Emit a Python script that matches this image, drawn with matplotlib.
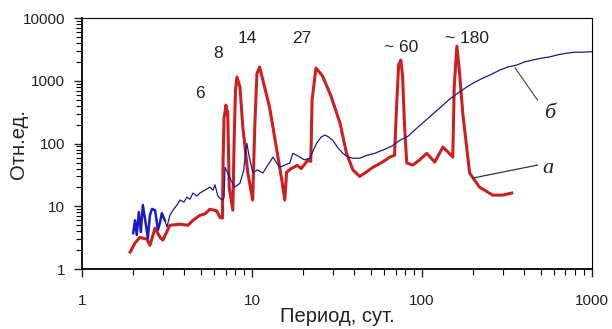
import matplotlib
matplotlib.use('Agg')
import matplotlib.pyplot as plt
from matplotlib.ticker import LogLocator, NullFormatter, FixedLocator

plt.rcParams['font.family'] = ['Liberation Sans', 'DejaVu Sans']

# curve "a" (red)
red_x = [1.92, 2.05, 2.19, 2.41, 2.51, 2.69, 2.88, 2.99, 3.29, 3.77, 4.2, 4.5,
         4.94, 5.3, 5.66, 6.2, 6.48, 6.7, 6.77, 6.85, 7.03, 7.12, 7.2, 7.35,
         7.72, 7.85, 8.0, 8.16, 8.5, 8.84, 9.46, 10.1, 10.4, 10.7, 11.1, 12.7,
         14.0, 15.0, 15.6, 16.0, 17.0, 18.5, 19.5, 21.4, 22.2, 22.6, 23.8, 26.0,
         29.0, 33.0, 36.0, 39.3, 43.0, 47.0, 51.5, 58.0, 64.8, 69.0, 71.0, 73.0,
         75.2, 77.0, 79.0, 81.5, 88.5, 97.0, 106.8, 119.0, 133.0, 145.0, 152.0,
         155.0, 160.7, 166.0, 174.0, 191.0, 218.0, 261.0, 299.0, 338.0]
red_y = [1.87, 2.6, 3.2, 3.0, 2.4, 4.5, 3.2, 2.9, 5.0, 5.2, 5.0, 6.0,
         7.2, 7.6, 9.0, 8.5, 6.7, 6.5, 60, 250, 411, 300, 330, 20,
         8.7, 100, 700, 1150, 800, 183, 34, 12.6, 200, 1300, 1660, 380,
         79, 26, 12.6, 35, 40, 45, 40, 55, 52, 500, 1600, 1200,
         600, 212, 70, 38, 30, 35, 42, 50, 61, 65, 400, 1800,
         2140, 1200, 200, 49, 45.5, 55, 70, 50.8, 88, 70, 61,
         800, 3580, 1500, 307, 34, 20.3, 15.1, 15.1, 16.3]

# curve "б" (blue)
blue_x = [2.0, 2.05, 2.1, 2.16, 2.22, 2.28, 2.38, 2.44, 2.51, 2.58, 2.69, 2.8,
          2.88, 2.95, 3.07, 3.16, 3.29, 3.43, 3.62, 3.77, 3.98, 4.14, 4.32, 4.5,
          4.75, 4.94, 5.29, 5.66, 5.9, 6.06, 6.3, 6.66, 6.85, 6.94, 7.2, 7.52,
          7.95, 8.5, 8.95, 9.2, 9.34, 9.6, 10.1, 10.8, 11.6, 12.4, 13.3, 14.0,
          14.6, 15.6, 16.7, 17.4, 18.4, 19.1, 20.4, 21.9, 24.0, 25.5, 26.9, 28.3,
          29.9, 32.1, 34.3, 36.7, 39.3, 43.0, 47.5, 52.8, 59.0, 66.5, 74.2, 82.6,
          93.5, 104, 116, 131, 146, 163, 184, 205, 228, 258, 288, 321,
          362, 402, 450, 508, 566, 632, 713, 791, 885, 1000]
blue_y = [3.75, 6.0, 3.5, 8.1, 3.9, 10.5, 5.0, 3.1, 7.2, 9.1, 8.7, 4.2,
          5.6, 7.8, 6.0, 4.7, 7.2, 8.7, 10.5, 12.6, 11.7, 14, 13, 16.3,
          14.6, 16.3, 18.2, 20.3, 18.2, 22, 14.6, 12.6, 13.6, 42, 34, 26,
          20.3, 23.4, 38, 79, 101, 65, 35, 38, 34, 45.5, 61, 49,
          42, 45.5, 49, 70, 65, 61, 55, 58.5, 101, 127, 137, 127,
          113, 85, 70, 61, 58.5, 58.5, 65, 70, 79, 91, 113, 130,
          177, 228, 295, 395, 515, 640, 800, 955, 1100, 1280, 1490, 1660,
          1790, 2000, 2150, 2300, 2410, 2600, 2760, 2860, 2860, 2920]

# peak labels
peak_labels = ['6', '8', '14', '27', '~ 60', '~ 180']
peak_lx = [4.94, 6.31, 9.36, 19.7, 76, 184]
peak_ly = [638, 2770, 4800, 4800, 3450, 4800]

fig = plt.figure(figsize=(6.12, 3.29), dpi=100)
ax = fig.add_axes([0.134, 0.182, 0.833, 0.763])

ax.plot(red_x, red_y, color='#cc2020', lw=2.2, solid_joinstyle='round')
ax.plot(blue_x[:15], blue_y[:15], color='#1c1cc0', lw=1.8)
ax.plot(blue_x[14:], blue_y[14:], color='#1a1a8c', lw=0.9)

ax.set_xscale('log')
ax.set_yscale('log')
ax.set_xlim(1, 1000)
ax.set_ylim(1, 10000)

ax.xaxis.set_major_locator(FixedLocator([1, 10, 100, 1000]))
ax.xaxis.set_minor_locator(LogLocator(base=10, subs=range(2, 10)))
ax.xaxis.set_minor_formatter(NullFormatter())
ax.set_xticklabels(['1', '10', '100', '1000'])
ax.yaxis.set_major_locator(FixedLocator([1, 10, 100, 1000, 10000]))
ax.yaxis.set_minor_locator(LogLocator(base=10, subs=range(2, 10)))
ax.yaxis.set_minor_formatter(NullFormatter())
ax.set_yticklabels(['1', '10', '100', '1000', '10000'])

ax.tick_params(axis='x', which='major', direction='out', length=6, width=1,
               pad=12, labelsize=11, colors='#222222')
ax.tick_params(axis='x', which='minor', direction='out', length=4, width=0.8)
ax.tick_params(axis='y', which='major', direction='out', length=6, width=1,
               pad=6, labelsize=11, colors='#222222')
ax.tick_params(axis='y', which='minor', direction='out', length=4, width=0.8)

for side in ['left', 'bottom']:
    ax.spines[side].set_linewidth(1.3)
for side in ['top', 'right']:
    ax.spines[side].set_linewidth(0.8)

ax.set_xlabel('Период, сут.', fontsize=14.5, labelpad=-1, color='#222222')
ax.set_ylabel('Отн.ед.', fontsize=14.5, labelpad=-4, color='#222222')

for t, x, y in zip(peak_labels, peak_lx, peak_ly):
    ax.text(x, y, t, fontsize=12.5, ha='center', va='center', color='#222222')

# curve leaders
ax.plot([354, 479], [1600, 494], color='#555555', lw=0.9)
ax.plot([199, 479], [28.2, 45.5], color='#333333', lw=0.9)
ax.text(566, 306, 'б', fontsize=16, style='italic', family='Liberation Serif',
        ha='center', va='center', color='#222222')
ax.text(548, 40.7, 'а', fontsize=16, style='italic', family='Liberation Serif',
        ha='center', va='center', color='#222222')

fig.savefig('out.png', dpi=100)
